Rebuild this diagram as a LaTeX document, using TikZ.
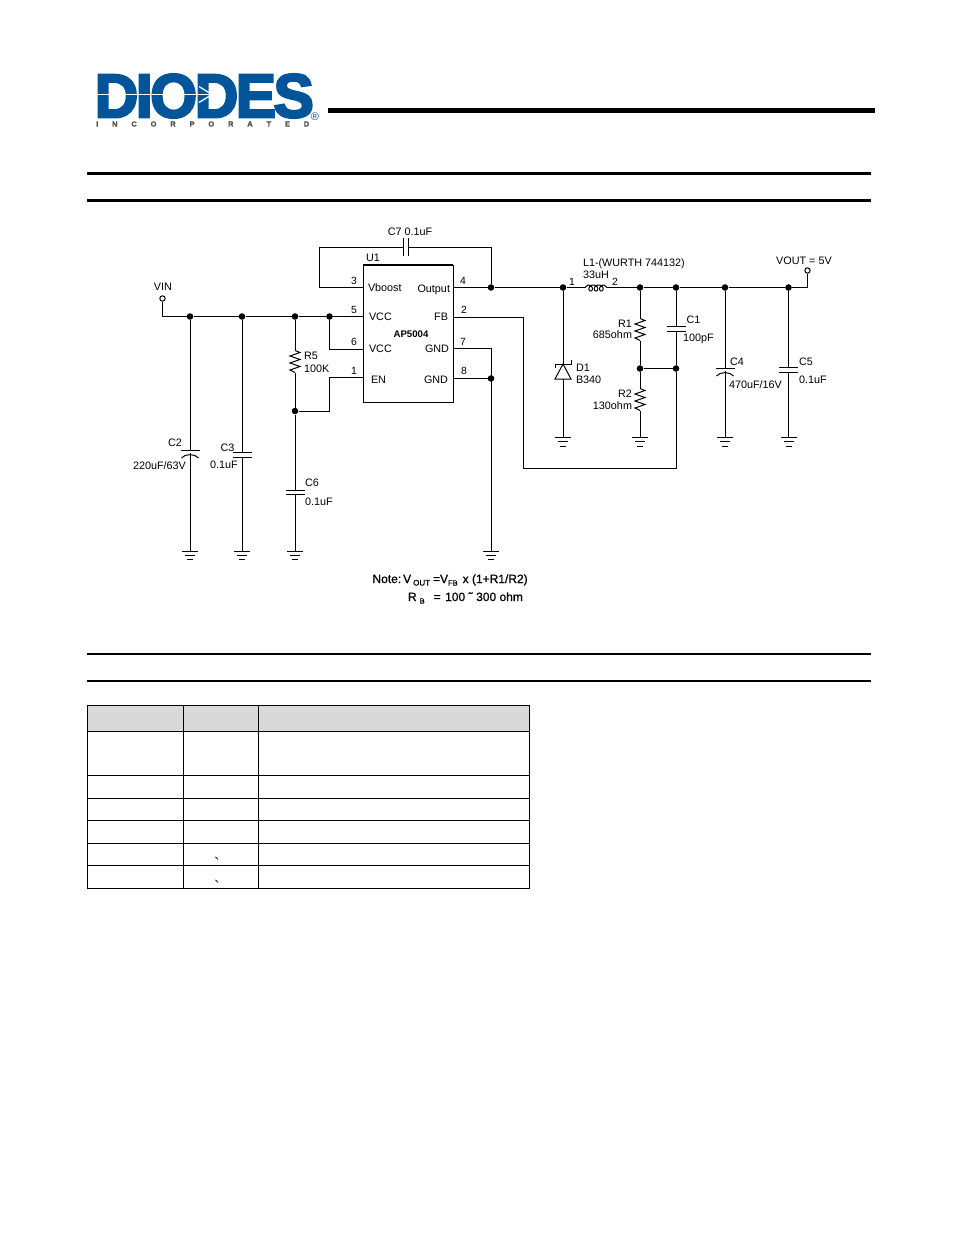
\documentclass[tikz,border=0pt]{standalone}
\usepackage{fontspec}
\setmainfont{Liberation Sans}
\newfontfamily\logofont[FakeBold=4,LetterSpace=-4]{Liberation Sans Bold}
\newfontfamily\incfont[FakeBold=1.2]{Liberation Sans Bold}
\newfontfamily\notefont[FakeBold=0.9]{Liberation Sans}
\newfontfamily\cjkfont{Noto Sans CJK SC}
\usepackage{xcolor}
\usepackage{tikz}
\usetikzlibrary{positioning}
\usetikzlibrary{calc}
\definecolor{logoblue}{RGB}{0,84,153}
\definecolor{logogrey}{RGB}{80,80,70}
\definecolor{headgrey}{RGB}{217,217,217}
\tikzset{
	lbl/.style={inner sep=0pt,outer sep=0pt,font=\fontsize{10.8}{12}\selectfont},
	pinnum/.style={lbl,font=\fontsize{10.4}{12}\selectfont},
	dot/.style={circle,fill=black,draw=none,minimum size=6.6pt,inner sep=0pt},
	openpin/.style={circle,draw,fill=white,minimum size=5.4pt,inner sep=0pt,line width=1pt},
	wire/.style={line width=1pt},
	gndsym/.pic={
			\coordinate (-in) at (0,0);
			\draw[wire] (-8,0) -- (8,0) (-5,4) -- (5,4) (-3,8.5) -- (3,8.5);
		},
	capsym/.pic={
			\coordinate (-top) at (0,-2.2);
			\coordinate (-bot) at (0,2.2);
			\draw[wire] (-9.5,-2.2) -- (9.5,-2.2) (-9.5,2.2) -- (9.5,2.2);
		},
	hcapsym/.pic={
			\coordinate (-lft) at (-2.2,0);
			\coordinate (-rgt) at (2.2,0);
			\draw[wire] (-2.2,-9) -- (-2.2,9) (2.2,-9) -- (2.2,9);
		},
	polcapsym/.pic={
			\coordinate (-top) at (0,0);
			\coordinate (-bot) at (0,3);
			\draw[wire] (-9.5,0) -- (9.5,0);
			\draw[wire] (-8.5,8) .. controls (-5,3.5) and (5,3.5) .. (8.5,8);
		},
	ressym/.pic={
			\coordinate (-top) at (0,0);
			\coordinate (-bot) at (0,22);
			\draw[wire] (0,0) -- (5,2) -- (-5,5.5) -- (5,9) -- (-5,12.5) -- (5,16) -- (-5,19.5) -- (0,22);
		},
	coilsym/.pic={
			\coordinate (-lft) at (0,0);
			\coordinate (-rgt) at (22,0);
			\draw[wire] (0,0) -- (3,-2.5);
			\draw[wire,smooth,samples=85,domain=180:1260] plot ({3+0.85*(\x-180)*0.01745-3*sin(\x)},{1.35-0.85+3*cos(\x)+0*\x});
			\draw[wire] (19,-2.5) -- (22,0);
		}
}
\begin{document}
\begin{tikzpicture}[x=1pt,y=-1pt]
	\useasboundingbox (0,0) rectangle (954,1235);

	% Logo
	\node[inner sep=0pt,text=logoblue,anchor=west] (logo) at (94.5,96)
	{\resizebox{219pt}{43pt}{\logofont DIODES}};
	\coordinate (arrowstart) at (96,94.5);
	\coordinate (arrowend) at (212,94.5);
	\draw[white,line width=1.6pt] (arrowstart) -- (arrowend);
	\draw[white,line width=1.3pt] (199,86.5) -- (arrowend) -- (199,102.5);
	\node[inner sep=0pt,text=logogrey,anchor=west] (inc) at (96,124)
	{\makebox[213pt][s]{\fontsize{7.4}{8}\selectfont\incfont I\hfill N\hfill C\hfill O\hfill R\hfill P\hfill O\hfill R\hfill A\hfill T\hfill E\hfill D}};
	\node[inner sep=0pt,text=logoblue,font=\fontsize{11}{11}\selectfont] (reg) at (315,117) {®};

	% Rules
	\fill (328,108) rectangle (875,113);
	\fill (87,172.2) rectangle (871,174.8);
	\fill (87,199.4) rectangle (871,202.4);
	\fill (87,653) rectangle (871,655);
	\fill (87,680) rectangle (871,682);

	% AP5004
	\node[draw,line width=1pt,outer sep=0pt,inner sep=0pt,
		minimum width=90pt,
		minimum height=137pt,
		anchor=north west,
	] (u1) at (363,265) {};
	\draw[line width=2pt] (u1.north west) -- (u1.north east);
	\node[lbl,anchor=south west] (u1name) at (366,262) {U1};
	\node[lbl,anchor=west] (vboost) at (368,288) {Vboost};
	\node[lbl,anchor=west] (vcca) at (369,317) {VCC};
	\node[lbl,anchor=west] (vccb) at (369,349) {VCC};
	\node[lbl,anchor=west] (en) at (371,380) {EN};
	\node[lbl,anchor=east] (output) at (450,289.5) {Output};
	\node[lbl,anchor=east] (fb) at (448,317) {FB};
	\node[lbl,anchor=east] (gnda) at (449,349) {GND};
	\node[lbl,anchor=east] (gndb) at (448,380) {GND};
	\node[lbl,font=\fontsize{9.6}{11}\selectfont\bfseries] (part) at (411,334) {AP5004};

	% Pin numbers
	\node[pinnum] (n3) at (354,280.5) {3};
	\node[pinnum] (n5) at (354,309.5) {5};
	\node[pinnum] (n6) at (354,341.5) {6};
	\node[pinnum] (n1) at (354,370.5) {1};
	\node[pinnum] (n4) at (463,280.5) {4};
	\node[pinnum] (n2) at (464,309.5) {2};
	\node[pinnum] (n7) at (463,341.5) {7};
	\node[pinnum] (n8) at (464,370.5) {8};

	% Pins
	\coordinate (p3) at (363,287.5);
	\coordinate (p5) at (363,316.5);
	\coordinate (p6) at (363,349);
	\coordinate (p1) at (363,377.5);
	\coordinate (p4) at (453,287.5);
	\coordinate (p2) at (453,317.5);
	\coordinate (p7) at (453,348);
	\coordinate (p8) at (453,378.5);

	% Junctions
	\node[dot] (jc2) at (190,316.5) {};
	\node[dot] (jc3) at (242,316.5) {};
	\node[dot] (jr5) at (295,316.5) {};
	\node[dot] (jvcc) at (329.5,316.5) {};
	\node[dot] (jen) at (295,411) {};
	\node[dot] (jout) at (491,287.5) {};
	\node[dot] (jgnd) at (491,378.5) {};
	\node[dot] (jd1) at (563,287.5) {};
	\node[dot] (jr1) at (640,287.5) {};
	\node[dot] (jc1) at (676,287.5) {};
	\node[dot] (jc4) at (725,287.5) {};
	\node[dot] (jc5) at (788.5,287.5) {};
	\node[dot] (jfba) at (640,368.5) {};
	\node[dot] (jfbb) at (676,368.5) {};

	% Input and output
	\node[openpin] (vin) at (162.5,298.5) {};
	\node[lbl] (vinlabel) at (163,287) {VIN};
	\node[openpin] (vout) at (807.5,270.5) {};
	\node[lbl] (voutlabel) at (804,261) {VOUT = 5V};

	% Components
	\pic (c7) at (406,247) {hcapsym};
	\pic (l1) at (585,287.5) {coilsym};
	\pic (r5) at (295,350.5) {ressym};
	\pic (r1) at (640,318.5) {ressym};
	\pic (r2) at (640,388.5) {ressym};
	\pic (c1) at (676,329) {capsym};
	\pic (c3) at (242,455) {capsym};
	\pic (c5) at (788.5,370) {capsym};
	\pic (c6) at (295,492.5) {capsym};
	\pic (c2) at (190,450) {polcapsym};
	\pic (c4) at (725,368) {polcapsym};

	% Grounds
	\pic (g2) at (190,551) {gndsym};
	\pic (g3) at (242,551) {gndsym};
	\pic (g6) at (295,551) {gndsym};
	\pic (g8) at (491,551) {gndsym};
	\pic (gd) at (563,437.5) {gndsym};
	\pic (gr) at (640,437.5) {gndsym};
	\pic (g4) at (725,437.5) {gndsym};
	\pic (g5) at (788.5,437.5) {gndsym};

	% Diode
	\coordinate (d1top) at (563,364);
	\coordinate (d1bot) at (563,379);
	\draw[wire] (d1bot) -- (555,379) -- (d1top) -- (571,379) -- (d1bot);
	\draw[wire] (555,367.5) -- (555,364) -- (571,364) -- (571,360);

	% Wires, input side
	\draw[wire] (vin) |- (jc2) -- (jc3) -- (jr5) -- (jvcc) -- (p5);
	\draw[wire] (jvcc) |- (p6);
	\draw[wire] (jr5) -- (r5-top);
	\draw[wire] (r5-bot) -- (jen);
	\draw[wire] (jen) -- (329.5,411) |- (p1);
	\draw[wire] (jen) -- (c6-top);
	\draw[wire] (c6-bot) -- (g6-in);
	\draw[wire] (jc2) -- (c2-top);
	\draw[wire] (c2-bot) -- (g2-in);
	\draw[wire] (jc3) -- (c3-top);
	\draw[wire] (c3-bot) -- (g3-in);

	% Wires, boost capacitor
	\draw[wire] (p3) -| (319,247) -- (c7-lft);
	\draw[wire] (c7-rgt) -| (jout);

	% Wires, output side
	\draw[wire] (p4) -- (jout) -- (jd1) -- (l1-lft);
	\draw[wire] (l1-rgt) -- (jr1) -- (jc1) -- (jc4) -- (jc5) -| (vout);
	\draw[wire] (jd1) -- (d1top);
	\draw[wire] (d1bot) -- (gd-in);
	\draw[wire] (jr1) -- (r1-top);
	\draw[wire] (r1-bot) -- (jfba);
	\draw[wire] (jfba) -- (r2-top);
	\draw[wire] (r2-bot) -- (gr-in);
	\draw[wire] (jc1) -- (c1-top);
	\draw[wire] (c1-bot) -- (jfbb);
	\draw[wire] (jfba) -- (jfbb);
	\draw[wire] (jfbb) -- (676,468) -- (523.5,468) -- (523.5,317.5) -- (p2);
	\draw[wire] (jc4) -- (c4-top);
	\draw[wire] (c4-bot) -- (g4-in);
	\draw[wire] (jc5) -- (c5-top);
	\draw[wire] (c5-bot) -- (g5-in);
	\draw[wire] (p7) -- (491,348) -- (g8-in);
	\draw[wire] (p8) -- (jgnd);

	% Labels
	\node[lbl] (c7label) at (410,232) {C7 0.1uF};
	\node[lbl,anchor=west] (l1label) at (583,263.5) {L1-(WURTH 744132)};
	\node[lbl] (l1value) at (596,274.5) {33uH};
	\node[pinnum] (l1a) at (572,281.5) {1};
	\node[pinnum] (l1b) at (615,281.5) {2};
	\node[lbl,anchor=west] (d1label) at (576,368) {D1};
	\node[lbl,anchor=west] (d1value) at (576,379.5) {B340};
	\node[lbl,anchor=east] (r1label) at (632,323.5) {R1};
	\node[lbl,anchor=east] (r1value) at (632,334.5) {685ohm};
	\node[lbl,anchor=east] (r2label) at (632,393.5) {R2};
	\node[lbl,anchor=east] (r2value) at (632,405.5) {130ohm};
	\node[lbl,anchor=west] (c1label) at (686.5,320) {C1};
	\node[lbl,anchor=west] (c1value) at (683,339) {100pF};
	\node[lbl,anchor=west] (c4label) at (730,361.5) {C4};
	\node[lbl,anchor=west] (c4value) at (729,384.5) {470uF/16V};
	\node[lbl,anchor=west] (c5label) at (799,361.5) {C5};
	\node[lbl,anchor=west] (c5value) at (799,379.5) {0.1uF};
	\node[lbl] (c2label) at (175,443) {C2};
	\node[lbl,anchor=west] (c2value) at (133,465.5) {220uF/63V};
	\node[lbl] (c3label) at (227.5,447.5) {C3};
	\node[lbl,anchor=west] (c3value) at (210,464.5) {0.1uF};
	\node[lbl,anchor=west] (r5label) at (304,355.5) {R5};
	\node[lbl,anchor=west] (r5value) at (304,368.5) {100K};
	\node[lbl,anchor=west] (c6label) at (305,482.5) {C6};
	\node[lbl,anchor=west] (c6value) at (305,501.5) {0.1uF};

	% Note
	\node[lbl,anchor=base west,font=\fontsize{12}{14}\selectfont\notefont] (note) at (372.5,583)
	{Note:\,V\,\raisebox{-2.5pt}{\fontsize{8}{9}\selectfont OUT}\kern3pt=V\raisebox{-2.5pt}{\fontsize{7.5}{9}\selectfont FB}\kern5pt x (1+R1/R2)};
	\node[lbl,anchor=base west,font=\fontsize{12}{14}\selectfont\notefont] (noteb) at (408,601)
	{R\kern3pt\raisebox{-2.5pt}{\fontsize{7.5}{9}\selectfont B}\kern9pt=\kern4.5pt100\kern3.5pt ˜\kern3.5pt 300 ohm};

	% Table
	\fill[headgrey] (87.3,705.7) rectangle (529,731.3);
	\draw[line width=1pt] (87.3,705.7) rectangle (529,888.3);
	\draw[line width=1pt] (87.3,731.3) -- (529,731.3)
	(87.3,775) -- (529,775)
	(87.3,798) -- (529,798)
	(87.3,820.5) -- (529,820.5)
	(87.3,843.3) -- (529,843.3)
	(87.3,865.5) -- (529,865.5);
	\draw[line width=1pt] (183.3,705.7) -- (183.3,888.3)
	(258.3,705.7) -- (258.3,888.3);
	\node[inner sep=0pt,font=\fontsize{11}{12}\selectfont\cjkfont] (marka) at (220,859) {、};
	\node[inner sep=0pt,font=\fontsize{11}{12}\selectfont\cjkfont] (markb) at (220,882) {、};
\end{tikzpicture}
\end{document}
